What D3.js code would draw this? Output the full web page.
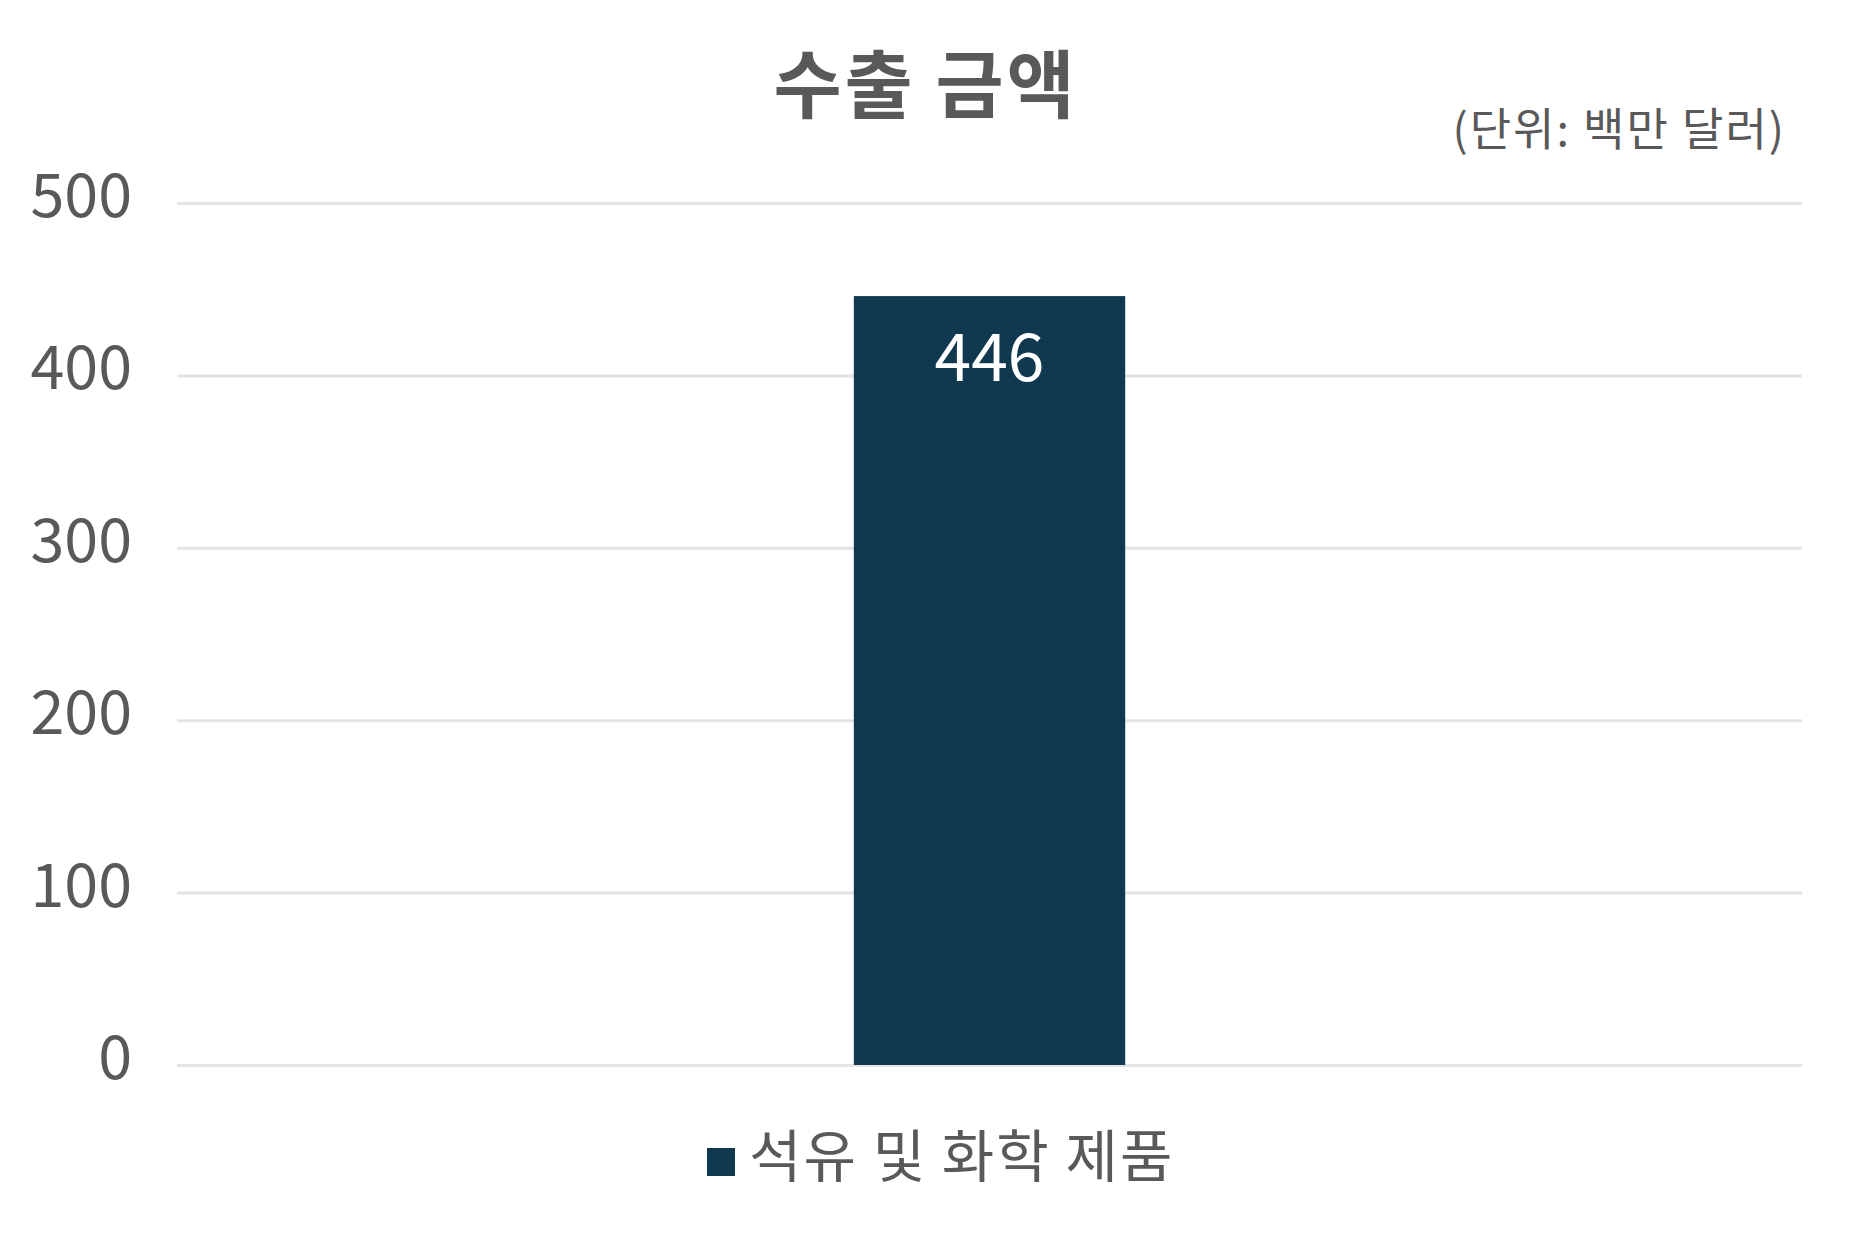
<!DOCTYPE html>
<html>
<head>
<meta charset="utf-8">
<script src="https://cdn.jsdelivr.net/npm/d3@7"></script>
<style>
  body { margin: 0; background: #fff; }
  text { font-family: "Noto Sans CJK KR", "Noto Sans", sans-serif; fill: #595959; }
  .grid line { stroke: #e4e4e4; stroke-width: 3; }
  .grid .domain { display: none; }
  .y-axis .domain, .y-axis line { display: none; }
</style>
</head>
<body>
<div id="chart"></div>
<script>
(function () {

  // data
  const categories = ["석유 및 화학 제품"];
  const values = [446];
  const yTicks = [0, 100, 200, 300, 400, 500];
  const chartTitle = "수출 금액";
  const unitLabel = "(단위: 백만 달러)";
  const barColor = "#10394f";

  // chart settings
  const svg_width = 1851;
  const svg_height = 1235;
  const margin = { top: 203, right: 49, bottom: 170, left: 177 },
    width = svg_width - margin.left - margin.right,
    height = svg_height - margin.top - margin.bottom;

  const x = d3.scaleBand()
    .domain(categories)
    .range([0, width])
    .paddingInner(0)
    .paddingOuter(0);
  const y = d3.scaleLinear()
    .domain([0, 500])
    .range([height, 0]);

  const root = d3.select("#chart").append("svg")
    .attr("width", svg_width)
    .attr("height", svg_height);

  // title
  root.append("text")
    .attr("x", svg_width / 2)
    .attr("y", 112)
    .attr("text-anchor", "middle")
    .style("font-size", "74px")
    .style("letter-spacing", "3px")
    .style("font-weight", "bold")
    .text(chartTitle);

  // unit
  root.append("text")
    .attr("x", 1786)
    .attr("y", 146)
    .attr("text-anchor", "end")
    .style("font-size", "45px")
    .style("letter-spacing", "2px")
    .text(unitLabel);

  const svg = root.append("g")
    .attr("transform", "translate(" + margin.left + "," + margin.top + ")");

  // gridlines
  svg.append("g")
    .attr("class", "grid")
    .call(d3.axisLeft(y).tickValues(yTicks).tickSize(-width).tickFormat(""));

  // y axis labels
  svg.append("g")
    .attr("class", "y-axis")
    .call(d3.axisLeft(y).tickValues(yTicks).tickSize(0).tickPadding(45))
    .selectAll("text")
    .style("font-size", "61px")
    .style("fill", "#595959")
    .attr("dy", "0.22em");

  // bars
  const barW = width * 0.167;
  svg.selectAll(".bar")
    .data(values)
    .enter().append("rect")
    .attr("class", "bar")
    .attr("x", (d, i) => x(categories[i]) + x.bandwidth() / 2 - barW / 2)
    .attr("y", d => y(d))
    .attr("width", barW)
    .attr("height", d => height - y(d))
    .attr("fill", barColor);

  // data labels
  svg.selectAll(".label")
    .data(values)
    .enter().append("text")
    .attr("class", "label")
    .attr("x", (d, i) => x(categories[i]) + x.bandwidth() / 2)
    .attr("y", d => y(d) + 85)
    .attr("text-anchor", "middle")
    .style("font-size", "66px")
    .style("fill", "#ffffff")
    .text(d => d);

  // legend
  const legend = root.append("g")
    .attr("transform", "translate(707,1148)");
  legend.append("rect")
    .attr("width", 28)
    .attr("height", 28)
    .attr("fill", barColor);
  legend.append("text")
    .attr("x", 42)
    .attr("y", 29)
    .style("font-size", "57px")
    .style("letter-spacing", "2px")
    .text(categories[0]);

})();
</script>
</body>
</html>
